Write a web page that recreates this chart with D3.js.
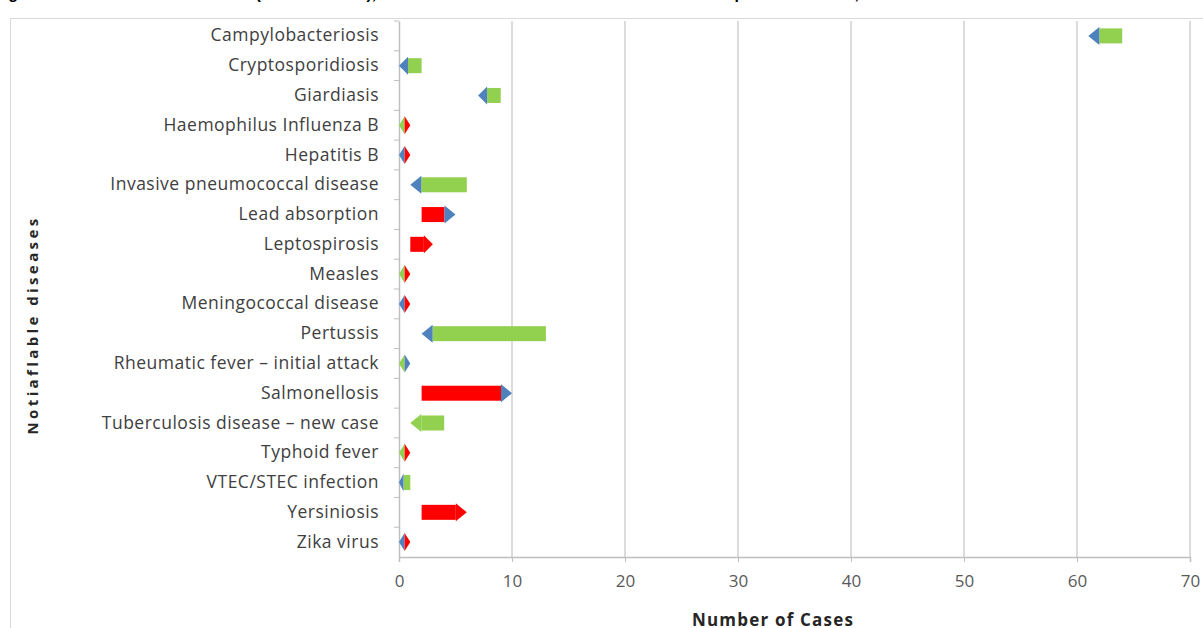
<!DOCTYPE html>
<html>
<head>
<meta charset="utf-8">
<script src="https://cdn.jsdelivr.net/npm/d3@7"></script>
<style>
  body { margin: 0; background: #fff; }
  svg { display: block; }
</style>
</head>
<body>
<svg id="chart"></svg>
<script>
const diseases = [
  "Campylobacteriosis", "Cryptosporidiosis", "Giardiasis", "Haemophilus Influenza B",
  "Hepatitis B", "Invasive pneumococcal disease", "Lead absorption", "Leptospirosis",
  "Measles", "Meningococcal disease", "Pertussis", "Rheumatic fever \u2013 initial attack",
  "Salmonellosis", "Tuberculosis disease \u2013 new case", "Typhoid fever",
  "VTEC/STEC infection", "Yersiniosis", "Zika virus"
];
const previousCases = [64, 2, 9, 0, 0, 6, 2, 1, 0, 0, 13, 0, 2, 4, 0, 1, 2, 0];
const currentCases  = [61, 0, 7, 1, 1, 1, 5, 3, 1, 1, 2, 1, 10, 1, 1, 0, 6, 1];
// which series the arrow head / tail marker belongs to
const headMarker = ["blue","blue","blue","up","up","blue","blue","up","up","up",
                    "blue","blue","blue","down","up","blue","up","up"];
const tailMarker = [null,null,null,"down","blue",null,null,null,"down","blue",
                    null,"down",null,null,"down",null,null,"blue"];
const xTicks = [0, 10, 20, 30, 40, 50, 60, 70];

const width = 1203, height = 628;
const colors = {up: "#ff0000", down: "#92d050", blue: "#4f81bd"};

const svg = d3.select("#chart").attr("width", width).attr("height", height);

// outer frame of chart area
svg.append("rect")
  .attr("x", 10.5).attr("y", 18.5).attr("width", 1210).attr("height", 640)
  .attr("fill", "none").attr("stroke", "#d9d9d9");

// title (mostly cut off at top)
svg.append("text")
  .attr("x", -6).attr("y", -1)
  .style("font-family", "Liberation Sans, Arial, sans-serif")
  .style("font-weight", "bold").style("font-size", "16px")
  .text("Figure 1: Notifiable disease cases (month to date), the number of cases in the last month and the previous month, 2019");

const x = d3.scaleLinear().domain([0, 70]).range([399, 1190]);
const y = d3.scaleBand().domain(diseases).range([21, 557]);

// gridlines
svg.append("g")
  .selectAll("line")
  .data(xTicks.slice(1))
  .enter().append("line")
  .attr("x1", d => x(d)).attr("x2", d => x(d))
  .attr("y1", 21).attr("y2", 557)
  .attr("stroke", "#d0d0d0").attr("stroke-width", 1.5);

// x axis
const xAxis = svg.append("g")
  .attr("transform", "translate(0,557)")
  .call(d3.axisBottom(x).tickValues(xTicks).tickSize(5).tickPadding(13));
xAxis.select(".domain").attr("stroke", "#bfbfbf").attr("stroke-width", 1.5);
xAxis.selectAll(".tick line").attr("stroke", "#bfbfbf");
xAxis.selectAll("text")
  .style("font-family", "Open Sans, sans-serif").style("font-size", "17px")
  .attr("fill", "#595959");

// y axis
const yAxis = svg.append("g")
  .attr("transform", "translate(399,0)")
  .call(d3.axisLeft(y).tickSize(0).tickPadding(20));
yAxis.select(".domain").attr("stroke", "#bfbfbf").attr("stroke-width", 1.5);
yAxis.selectAll("text")
  .style("font-family", "Open Sans, sans-serif").style("font-size", "17.5px")
  .style("letter-spacing", "0.5px")
  .attr("fill", "#404040");
// minor ticks between categories
yAxis.selectAll(".cat-tick")
  .data(diseases)
  .enter().append("line")
  .attr("x1", -5).attr("x2", 0)
  .attr("y1", d => y(d)).attr("y2", d => y(d))
  .attr("stroke", "#bfbfbf");

// arrows
const bodyH = 15, headH = 18;
const rows = diseases.map((d, i) => ({
  name: d, prev: previousCases[i], curr: currentCases[i],
  head: headMarker[i], tail: tailMarker[i]
}));

const marks = svg.append("g");
rows.forEach(r => {
  const cy = y(r.name) + y.bandwidth() / 2;
  const x0 = x(r.prev), x1 = x(r.curr);
  const g = marks.append("g");
  if (r.tail) {
    const mid = (x0 + x1) / 2;
    g.append("path")
      .attr("d", `M${mid},${cy - headH / 2}L${x0},${cy}L${mid},${cy + headH / 2}Z`)
      .attr("fill", colors[r.tail]);
    g.append("path")
      .attr("d", `M${mid},${cy - headH / 2}L${x1},${cy}L${mid},${cy + headH / 2}Z`)
      .attr("fill", colors[r.head]);
    return;
  }
  const dir = x1 > x0 ? 1 : -1;
  const headLen = Math.min(11, Math.abs(x1 - x0) * 0.4);
  const base = x1 - dir * headLen;
  g.append("rect")
    .attr("x", Math.min(x0, base)).attr("width", Math.abs(base - x0))
    .attr("y", cy - bodyH / 2).attr("height", bodyH)
    .attr("fill", r.curr > r.prev ? colors.up : colors.down);
  g.append("path")
    .attr("d", `M${base},${cy - headH / 2}L${x1},${cy}L${base},${cy + headH / 2}Z`)
    .attr("fill", colors[r.head]);
});

// axis titles
svg.append("text")
  .attr("x", 773).attr("y", 626)
  .attr("text-anchor", "middle")
  .style("font-family", "Open Sans, sans-serif").style("font-weight", "bold")
  .style("font-size", "17px").style("letter-spacing", "1.2px").attr("fill", "#262626")
  .text("Number of Cases");

svg.append("text")
  .attr("transform", "translate(38,325) rotate(-90)")
  .attr("text-anchor", "middle")
  .style("font-family", "Open Sans, sans-serif").style("font-weight", "bold")
  .style("font-size", "15px").style("letter-spacing", "3.4px").attr("fill", "#262626")
  .text("Notiaflable diseases");
</script>
</body>
</html>
